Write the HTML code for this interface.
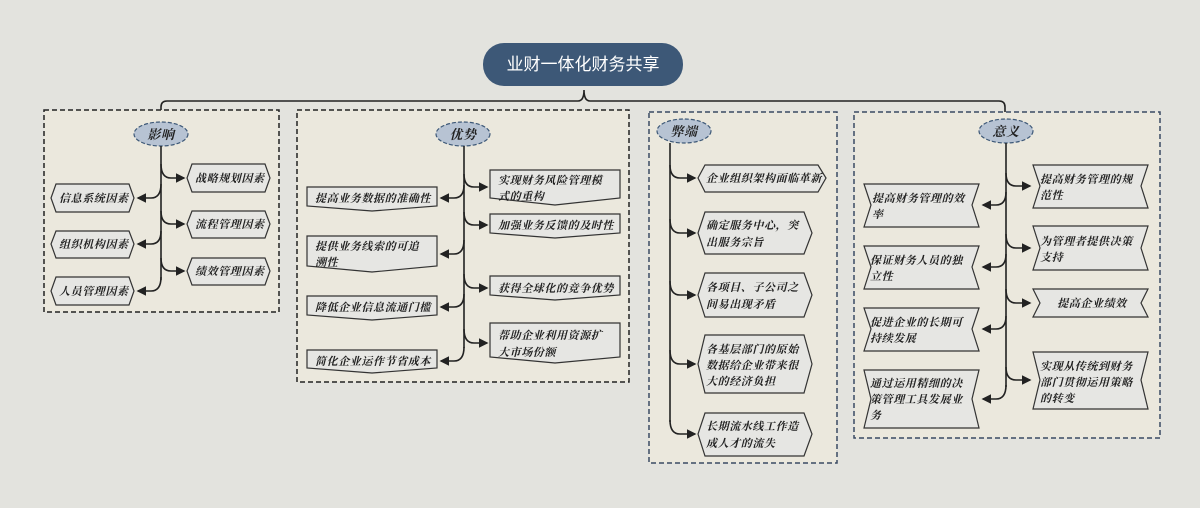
<!DOCTYPE html>
<html><head><meta charset="utf-8"><style>
html,body{margin:0;padding:0;background:#e3e3de;}
svg{display:block}
text{font-family:"Liberation Serif","Noto Serif CJK SC",serif;font-size:11px;font-style:italic;font-weight:bold;fill:#222;letter-spacing:0.6px}
.t{font-family:"Liberation Sans","Noto Sans CJK SC",sans-serif;font-style:normal;font-weight:normal;font-size:17px;fill:#fff;letter-spacing:0}
.e{font-size:13px}
.n{fill:#e6e6e3;stroke:#333;stroke-width:1.2}
.c{fill:none;stroke:#222;stroke-width:1.6}
.b1{fill:#ebe8dd;stroke:#222;stroke-width:1.5;stroke-dasharray:5 3}
.b2{fill:#ebe8dd;stroke:#3b4a63;stroke-width:1.5;stroke-dasharray:5 3}
.el{fill:#b7c3d3;stroke:#3d5877;stroke-width:1.2;stroke-dasharray:4 2}
</style></head><body>
<svg width="1200" height="508" viewBox="0 0 1200 508">
<defs><marker id="a" markerWidth="6" markerHeight="6" refX="5" refY="3" orient="auto"><path d="M0,0 L6,3 L0,6 Z" fill="#222"/></marker></defs>

<rect x="483" y="43" width="200" height="43" rx="21" fill="#3d5877"/>
<text class="t" x="583" y="70" text-anchor="middle">业财一体化财务共享</text>
<path class="c" d="M161,112 L161,107 Q161,101 167,101 L578,101 Q584,101 584,90 Q584,101 590,101 L999,101 Q1005,101 1005,107 L1005,112"/>

<rect class="b1" x="44" y="110" width="235" height="202"/>
<rect class="b1" x="297" y="110" width="332" height="272"/>
<rect class="b2" x="649" y="112" width="188" height="351"/>
<rect class="b2" x="854" y="112" width="306" height="326"/>

<ellipse class="el" cx="161" cy="134" rx="27" ry="12"/><text class="e" x="161" y="139" text-anchor="middle">影响</text>
<ellipse class="el" cx="463" cy="134" rx="27" ry="12"/><text class="e" x="463" y="139" text-anchor="middle">优势</text>
<ellipse class="el" cx="684" cy="131" rx="27" ry="12"/><text class="e" x="684" y="136" text-anchor="middle">弊端</text>
<ellipse class="el" cx="1006" cy="131" rx="27" ry="12"/><text class="e" x="1006" y="136" text-anchor="middle">意义</text>

<path class="c" d="M161,146 L161,280"/>
<path class="c" d="M464,146 L464,348"/>
<path class="c" d="M670,143 L670,422"/>
<path class="c" d="M1006,143 L1006,387"/>

<g class="c">
<path d="M161,184 Q161,198 151,198 L138,198" marker-end="url(#a)"/>
<path d="M161,231 Q161,244 151,244 L138,244" marker-end="url(#a)"/>
<path d="M161,277 Q161,291 151,291 L138,291" marker-end="url(#a)"/>
<path d="M161,164 Q161,178 171,178 L184,178" marker-end="url(#a)"/>
<path d="M161,211 Q161,224 171,224 L184,224" marker-end="url(#a)"/>
<path d="M161,258 Q161,271 171,271 L184,271" marker-end="url(#a)"/>
<path d="M464,185 Q464,198 454,198 L441,198" marker-end="url(#a)"/>
<path d="M464,240 Q464,254 454,254 L441,254" marker-end="url(#a)"/>
<path d="M464,294 Q464,307 454,307 L441,307" marker-end="url(#a)"/>
<path d="M464,347 Q464,361 454,361 L441,361" marker-end="url(#a)"/>
<path d="M464,174 Q464,187 474,187 L487,187" marker-end="url(#a)"/>
<path d="M464,212 Q464,225 474,225 L487,225" marker-end="url(#a)"/>
<path d="M464,274 Q464,288 474,288 L487,288" marker-end="url(#a)"/>
<path d="M464,329 Q464,343 474,343 L487,343" marker-end="url(#a)"/>
<path d="M670,165 Q670,178 680,178 L695,178" marker-end="url(#a)"/>
<path d="M670,219 Q670,233 680,233 L695,233" marker-end="url(#a)"/>
<path d="M670,281 Q670,295 680,295 L695,295" marker-end="url(#a)"/>
<path d="M670,350 Q670,364 680,364 L695,364" marker-end="url(#a)"/>
<path d="M670,420 Q670,434 680,434 L695,434" marker-end="url(#a)"/>
<path d="M1006,192 Q1006,205 996,205 L983,205" marker-end="url(#a)"/>
<path d="M1006,254 Q1006,267 996,267 L983,267" marker-end="url(#a)"/>
<path d="M1006,316 Q1006,329 996,329 L983,329" marker-end="url(#a)"/>
<path d="M1006,385 Q1006,399 996,399 L983,399" marker-end="url(#a)"/>
<path d="M1006,173 Q1006,186 1016,186 L1030,186" marker-end="url(#a)"/>
<path d="M1006,234 Q1006,248 1016,248 L1030,248" marker-end="url(#a)"/>
<path d="M1006,289 Q1006,303 1016,303 L1030,303" marker-end="url(#a)"/>
<path d="M1006,367 Q1006,380 1016,380 L1030,380" marker-end="url(#a)"/>
</g>

<polygon class="n" points="56,184 129,184 134,198 129,212 56,212 51,198"/><text x="59" y="202">信息系统因素</text>
<polygon class="n" points="56,231 129,231 134,244 129,258 56,258 51,244"/><text x="59" y="248">组织机构因素</text>
<polygon class="n" points="56,277 129,277 134,291 129,305 56,305 51,291"/><text x="59" y="295">人员管理因素</text>
<polygon class="n" points="192,164 265,164 270,178 265,192 192,192 187,178"/><text x="195" y="182">战略规划因素</text>
<polygon class="n" points="192,211 265,211 270,224 265,238 192,238 187,224"/><text x="195" y="228">流程管理因素</text>
<polygon class="n" points="192,258 265,258 270,271 265,285 192,285 187,271"/><text x="195" y="275">绩效管理因素</text>

<polygon class="n" points="307,187 437,187 437,206 372,211 307,206"/><text x="315" y="202">提高业务数据的准确性</text>
<polygon class="n" points="307,236 437,236 437,266 372,272 307,266"/><text x="315" y="250">提供业务线索的可追</text><text x="315" y="266">溯性</text>
<polygon class="n" points="307,296 437,296 437,315 372,320 307,315"/><text x="315" y="311">降低企业信息流通门槛</text>
<polygon class="n" points="307,350 437,350 437,368 372,373 307,368"/><text x="315" y="365">简化企业运作节省成本</text>
<polygon class="n" points="490,170 620,170 620,198 555,205 490,198"/><text x="498" y="184">实现财务风险管理模</text><text x="498" y="200">式的重构</text>
<polygon class="n" points="490,214 620,214 620,233 555,238 490,233"/><text x="498" y="229">加强业务反馈的及时性</text>
<polygon class="n" points="490,276 620,276 620,295 555,300 490,295"/><text x="498" y="292">获得全球化的竞争优势</text>
<polygon class="n" points="490,323 620,323 620,357 555,363 490,357"/><text x="498" y="339">帮助企业利用资源扩</text><text x="498" y="356">大市场份额</text>

<polygon class="n" points="705,165 818,165 826,178 818,192 705,192 698,178"/><text x="706" y="182">企业组织架构面临革新</text>
<polygon class="n" points="705,212 804,212 812,233 804,254 705,254 698,233"/><text x="706" y="229">确定服务中心，突</text><text x="706" y="246">出服务宗旨</text>
<polygon class="n" points="705,273 804,273 812,295 804,317 705,317 698,295"/><text x="706" y="291">各项目、子公司之</text><text x="706" y="308">间易出现矛盾</text>
<polygon class="n" points="705,335 804,335 812,364 804,393 705,393 698,364"/><text x="706" y="353">各基层部门的原始</text><text x="706" y="369">数据给企业带来很</text><text x="706" y="385">大的经济负担</text>
<polygon class="n" points="705,413 804,413 812,434 804,456 705,456 698,434"/><text x="706" y="430">长期流水线工作造</text><text x="706" y="447">成人才的流失</text>

<polygon class="n" points="864,184 979,184 972,205 979,227 864,227 871,205"/><text x="872" y="202">提高财务管理的效</text><text x="872" y="218">率</text>
<polygon class="n" points="864,246 979,246 972,267 979,289 864,289 871,267"/><text x="870" y="264">保证财务人员的独</text><text x="870" y="280">立性</text>
<polygon class="n" points="864,308 979,308 972,329 979,351 864,351 871,329"/><text x="870" y="326">促进企业的长期可</text><text x="870" y="342">持续发展</text>
<polygon class="n" points="864,370 979,370 972,399 979,428 864,428 871,399"/><text x="870" y="387">通过运用精细的决</text><text x="870" y="403">策管理工具发展业</text><text x="870" y="419">务</text>
<polygon class="n" points="1033,165 1148,165 1141,186 1148,208 1033,208 1040,186"/><text x="1040" y="183">提高财务管理的规</text><text x="1040" y="199">范性</text>
<polygon class="n" points="1033,226 1148,226 1141,248 1148,270 1033,270 1040,248"/><text x="1040" y="245">为管理者提供决策</text><text x="1040" y="261">支持</text>
<polygon class="n" points="1033,289 1148,289 1141,303 1148,317 1033,317 1040,303"/><text x="1092" y="307" text-anchor="middle">提高企业绩效</text>
<polygon class="n" points="1033,352 1148,352 1141,380 1148,409 1033,409 1040,380"/><text x="1040" y="370">实现从传统到财务</text><text x="1040" y="386">部门贯彻运用策略</text><text x="1040" y="402">的转变</text>
</svg>
</body></html>
